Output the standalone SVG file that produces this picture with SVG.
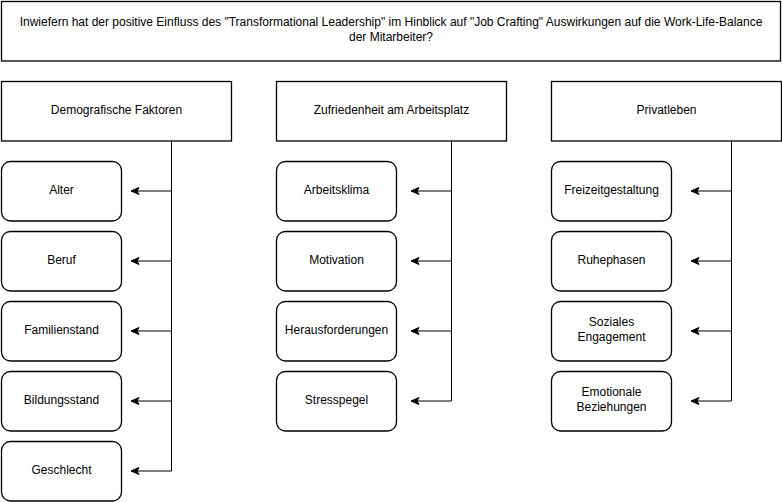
<svg xmlns="http://www.w3.org/2000/svg" width="782" height="502" viewBox="0 0 782 502">
<defs>
<style>
.box{fill:#fff;stroke:#000;stroke-width:1.3}
.t{font-family:"Liberation Sans",Arial,sans-serif;font-size:12px;fill:#000;text-anchor:middle}
.c{fill:none;stroke:#000;stroke-width:1}
</style>
<marker id="arr" viewBox="0 0 10 10" refX="9" refY="5" markerWidth="10" markerHeight="10" markerUnits="userSpaceOnUse" orient="auto">
<path d="M1,1.5 L9,5 L1,8.5 L3,5 Z" fill="#000" stroke="#000" stroke-width="1"/>
</marker>
</defs>
<rect width="782" height="502" fill="#fff"/>
<g id="question">
<rect class="box" x="1.5" y="1.5" width="779" height="59.5"/>
<text class="t" x="391" y="26">Inwiefern hat der positive Einfluss des "Transformational Leadership" im Hinblick auf "Job Crafting" Auswirkungen auf die Work-Life-Balance</text>
<text class="t" x="391" y="40.5">der Mitarbeiter?</text>
</g>
<g id="connectors">
<path class="c" d="M171.5,141 V471"/>
<path class="c" d="M171.5,191 H131" marker-end="url(#arr)"/>
<path class="c" d="M171.5,261 H131" marker-end="url(#arr)"/>
<path class="c" d="M171.5,331 H131" marker-end="url(#arr)"/>
<path class="c" d="M171.5,401 H131" marker-end="url(#arr)"/>
<path class="c" d="M171.5,471 H131" marker-end="url(#arr)"/>
<path class="c" d="M451.5,141 V401"/>
<path class="c" d="M451.5,191 H411" marker-end="url(#arr)"/>
<path class="c" d="M451.5,261 H411" marker-end="url(#arr)"/>
<path class="c" d="M451.5,331 H411" marker-end="url(#arr)"/>
<path class="c" d="M451.5,401 H411" marker-end="url(#arr)"/>
<path class="c" d="M731.5,141 V401"/>
<path class="c" d="M731.5,191 H691" marker-end="url(#arr)"/>
<path class="c" d="M731.5,261 H691" marker-end="url(#arr)"/>
<path class="c" d="M731.5,331 H691" marker-end="url(#arr)"/>
<path class="c" d="M731.5,401 H691" marker-end="url(#arr)"/>
</g>
<g id="demografische">
<rect class="box" x="1.5" y="81.5" width="230" height="59.5"/>
<text class="t" x="116.5" y="114">Demografische Faktoren</text>
</g>
<g id="zufriedenheit">
<rect class="box" x="276.5" y="81.5" width="230" height="59.5"/>
<text class="t" x="391.5" y="114">Zufriedenheit am Arbeitsplatz</text>
</g>
<g id="privatleben">
<rect class="box" x="551.5" y="81.5" width="230" height="59.5"/>
<text class="t" x="666.5" y="114">Privatleben</text>
</g>
<g id="alter"><rect class="box" x="1.5" y="161.5" width="120" height="59.5" rx="9"/><text class="t" x="61.5" y="194">Alter</text></g>
<g id="beruf"><rect class="box" x="1.5" y="231.5" width="120" height="59.5" rx="9"/><text class="t" x="61.5" y="264">Beruf</text></g>
<g id="familienstand"><rect class="box" x="1.5" y="301.5" width="120" height="59.5" rx="9"/><text class="t" x="61.5" y="334">Familienstand</text></g>
<g id="bildungsstand"><rect class="box" x="1.5" y="371.5" width="120" height="59.5" rx="9"/><text class="t" x="61.5" y="404">Bildungsstand</text></g>
<g id="geschlecht"><rect class="box" x="1.5" y="441.5" width="120" height="59.5" rx="9"/><text class="t" x="61.5" y="474">Geschlecht</text></g>
<g id="arbeitsklima"><rect class="box" x="276.5" y="161.5" width="120" height="59.5" rx="9"/><text class="t" x="336.5" y="194">Arbeitsklima</text></g>
<g id="motivation"><rect class="box" x="276.5" y="231.5" width="120" height="59.5" rx="9"/><text class="t" x="336.5" y="264">Motivation</text></g>
<g id="herausforderungen"><rect class="box" x="276.5" y="301.5" width="120" height="59.5" rx="9"/><text class="t" x="336.5" y="334">Herausforderungen</text></g>
<g id="stresspegel"><rect class="box" x="276.5" y="371.5" width="120" height="59.5" rx="9"/><text class="t" x="336.5" y="404">Stresspegel</text></g>
<g id="freizeitgestaltung"><rect class="box" x="551.5" y="161.5" width="120" height="59.5" rx="9"/><text class="t" x="611.5" y="194">Freizeitgestaltung</text></g>
<g id="ruhephasen"><rect class="box" x="551.5" y="231.5" width="120" height="59.5" rx="9"/><text class="t" x="611.5" y="264">Ruhephasen</text></g>
<g id="soziales"><rect class="box" x="551.5" y="301.5" width="120" height="59.5" rx="9"/><text class="t" x="611.5" y="325.5">Soziales</text><text class="t" x="611.5" y="340.5">Engagement</text></g>
<g id="emotionale"><rect class="box" x="551.5" y="371.5" width="120" height="59.5" rx="9"/><text class="t" x="611.5" y="395.5">Emotionale</text><text class="t" x="611.5" y="410.5">Beziehungen</text></g>
</svg>
